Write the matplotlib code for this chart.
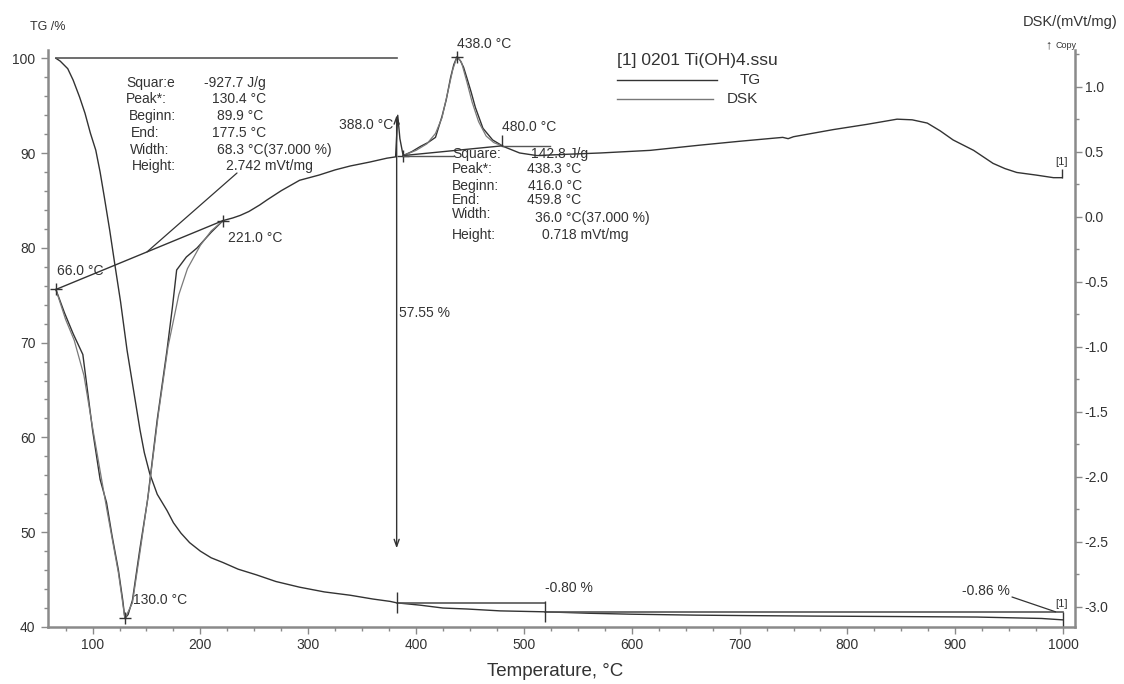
import numpy as np
import matplotlib.pyplot as plt
from matplotlib.lines import Line2D
from matplotlib.ticker import MultipleLocator

plt.rcParams['font.family'] = ['Liberation Sans', 'DejaVu Sans']
plt.rcParams['axes.unicode_minus'] = False

# TG curve, mass in %
tg_temp = [66, 70, 77, 82, 88, 93, 98, 103, 107, 111, 116, 121, 126, 132, 138, 144, 148, 153, 160, 169,
           175, 182, 190, 200, 210, 221, 235, 252, 270, 292, 315, 339, 360, 376, 382, 404, 425, 447, 478, 520,
           560, 600, 660, 710, 770, 850, 920, 980, 1000]
tg_mass = [100.0, 99.7, 98.9, 97.7, 95.9, 94.2, 92.1, 90.3, 88.0, 85.3, 81.8, 78.0, 74.3, 69.2, 65.0, 60.8, 58.4, 56.2, 54.0, 52.3,
           51.0, 49.9, 48.9, 48.0, 47.3, 46.8, 46.1, 45.5, 44.8, 44.2, 43.7, 43.35, 42.95, 42.7, 42.55, 42.3, 42.0, 41.9, 41.7, 41.6,
           41.45, 41.35, 41.25, 41.2, 41.15, 41.1, 41.05, 40.9, 40.75]

# DSK curve, mVt/mg
dsk_temp = [66, 74, 82, 91, 100, 107, 113, 118, 124, 128, 130, 133, 137, 144, 151, 160, 169, 174, 178, 187,
            197, 210, 221, 230, 237, 245, 255, 262, 275, 292, 310, 325, 339, 357, 373, 381, 383, 385, 388, 396,
            404, 411, 418, 424, 428, 432, 435, 438, 441, 444, 447, 451, 455, 462, 471, 481, 496, 512, 540, 571,
            617, 663, 700, 740, 745, 750, 787, 818, 846, 860, 874, 886, 898, 917, 926, 935, 946, 957, 975, 991, 999]
dsk_sig = [-0.56, -0.74, -0.90, -1.06, -1.64, -2.02, -2.20, -2.45, -2.72, -2.95, -3.09, -3.06, -2.95, -2.55, -2.18, -1.56, -1.03, -0.70, -0.41, -0.31,
           -0.24, -0.12, -0.03, -0.01, 0.01, 0.04, 0.09, 0.13, 0.20, 0.28, 0.32, 0.36, 0.39, 0.42, 0.45, 0.46, 0.78, 0.60, 0.47, 0.50,
           0.54, 0.57, 0.61, 0.77, 0.90, 1.07, 1.17, 1.23, 1.20, 1.15, 1.07, 0.96, 0.84, 0.68, 0.59, 0.54, 0.49, 0.47, 0.48, 0.49,
           0.51, 0.55, 0.58, 0.61, 0.60, 0.615, 0.67, 0.71, 0.75, 0.745, 0.72, 0.66, 0.59, 0.51, 0.46, 0.41, 0.37, 0.34, 0.32, 0.30, 0.30]

# fitted peak curves drawn over the DSK
fit1_temp = [66, 75, 83, 92, 100, 113, 124, 130, 137, 144, 152, 161, 170, 180, 188, 200, 210, 221]
fit1_sig = [-0.56, -0.79, -0.95, -1.22, -1.62, -2.24, -2.74, -3.09, -2.97, -2.58, -2.12, -1.52, -1.00, -0.60, -0.40, -0.22, -0.11, -0.03]
fit2_temp = [388, 400, 410, 418, 424, 430, 434, 438, 442, 447, 452, 458, 465, 472, 481]
fit2_sig = [0.47, 0.51, 0.56, 0.64, 0.76, 0.98, 1.13, 1.23, 1.19, 1.04, 0.88, 0.73, 0.62, 0.57, 0.54]

# evaluation points
peak1_marks = [66.0, 130.0, 221.0]
peak2_marks = [388.0, 438.0, 480.0]
step_marks = [382.0, 520.0, 1000.0]

peak1_names = ['Squar:e', 'Peak*:', 'Beginn:', 'End:', 'Width:', 'Height:']
peak1_vals = ['-927.7 J/g', '130.4 °C', '89.9 °C', '177.5 °C', '68.3 °C(37.000 %)', '2.742 mVt/mg']
peak2_names = ['Square:', 'Peak*:', 'Beginn:', 'End:', 'Width:', 'Height:']
peak2_vals = ['142.8 J/g', '438.3 °C', '416.0 °C', '459.8 °C', '36.0 °C(37.000 %)', '0.718 mVt/mg']

W, H = 1124, 684
INK = '#333333'
GREY = '#8a8a8a'
REF = '#555555'


def fxy(px, py):
    return px / W, 1 - py / H


fig = plt.figure(figsize=(W / 100, H / 100), dpi=100)
ax = fig.add_axes([48 / W, 1 - 627 / H, (1075 - 48) / W, (627 - 50) / H])
ax2 = ax.twinx()

ax.set_xlim(58.7, 1011)
ax.set_ylim(40, 100.87)
ax2.set_ylim(-3.156, 1.282)

for a in (ax, ax2):
    a.spines['top'].set_visible(False)
ax.spines['right'].set_visible(False)
ax2.spines['left'].set_visible(False)
ax2.spines['bottom'].set_visible(False)
for s in (ax.spines['left'], ax.spines['bottom'], ax2.spines['right']):
    s.set_color(GREY)
    s.set_linewidth(1.8)

ax.xaxis.set_major_locator(MultipleLocator(100))
ax.xaxis.set_minor_locator(MultipleLocator(25))
ax.yaxis.set_major_locator(MultipleLocator(10))
ax.yaxis.set_minor_locator(MultipleLocator(2))
ax2.yaxis.set_major_locator(MultipleLocator(0.5))
ax2.yaxis.set_minor_locator(MultipleLocator(0.25))
for a in (ax, ax2):
    a.tick_params(which='major', direction='out', length=5, width=1, color=GREY,
                  labelcolor=INK, labelsize=10)
    a.tick_params(which='minor', direction='out', length=3, width=1, color=GREY)
ax.tick_params(axis='y', pad=4)
ax.tick_params(axis='x', pad=3)
ax2.tick_params(axis='y', pad=2)

# curves
ax.plot(tg_temp, tg_mass, color=INK, lw=1.0)
ax2.plot(dsk_temp, dsk_sig, color=INK, lw=1.0)
ax2.plot(fit1_temp, fit1_sig, color='#7a7a7a', lw=0.9)
ax2.plot(fit2_temp, fit2_sig, color='#7a7a7a', lw=0.9)

# DSK peak evaluation
d1 = np.interp(peak1_marks, dsk_temp, dsk_sig)
d2 = np.interp(peak2_marks, dsk_temp, dsk_sig)
ax2.plot(peak1_marks, d1, '+', ms=9, mew=1, color=INK)
ax2.plot(peak2_marks[:2], d2[:2], '+', ms=9, mew=1, color=INK)
ax2.plot([peak1_marks[0], peak1_marks[2]], [d1[0], d1[2]], color=INK, lw=1.0)
ax2.plot([peak2_marks[0], peak2_marks[2]], [d2[0], d2[2]], color=INK, lw=1.0)
ax2.plot([peak2_marks[0], 434], [d2[0], d2[0]], color=REF, lw=1.0)
ax2.plot([peak2_marks[2], 524], [d2[2], d2[2]], color=REF, lw=1.0)
ax2.vlines(peak2_marks[2], d2[2], d2[2] + 0.08, color=INK, lw=1.0)
ax2.vlines(dsk_temp[-1], dsk_sig[-1], dsk_sig[-1] + 0.07, color=INK, lw=1.0)

# height pointer of peak 1
base_t = 150.5
base_y = np.interp(base_t, [peak1_marks[0], peak1_marks[2]], [d1[0], d1[2]])
ax2.annotate('', xy=(base_t, base_y), xytext=(237, H - 173), textcoords='figure pixels',
             arrowprops=dict(arrowstyle='-', color=INK, lw=0.9, shrinkA=0, shrinkB=0))

# TG step evaluation
t = np.interp(step_marks, tg_temp, tg_mass)
ax.plot([tg_temp[0], step_marks[0]], [tg_mass[0], tg_mass[0]], color=REF, lw=1.2)
ax.plot([step_marks[0], step_marks[1]], [t[0], t[0]], color=REF, lw=1.2)
ax.plot([step_marks[1], step_marks[2]], [t[1], t[1]], color=REF, lw=1.2)
ax.vlines(step_marks[0], t[0] - 1.1, t[0] + 1.1, color=INK, lw=1.0)
ax.vlines(step_marks[1], t[1] - 1.1, t[1] + 1.1, color=INK, lw=1.0)
ax.vlines(step_marks[2], t[2] - 0.8, t[2] + 0.8, color=INK, lw=1.0)
ax.annotate('', xy=(step_marks[0], 48.3), xytext=(step_marks[0], 94.0),
            arrowprops=dict(arrowstyle='<->,head_length=0.5,head_width=0.18', color=INK, lw=1.0,
                            shrinkA=0, shrinkB=0))
ax.annotate('', xy=(993, t[1]), xytext=(1012, H - 597), textcoords='figure pixels',
            arrowprops=dict(arrowstyle='-', color=INK, lw=0.9, shrinkA=0, shrinkB=0))

# point labels
lab = dict(color=INK, fontsize=10, textcoords='offset pixels', va='center')
ax2.annotate('66.0 °C', (peak1_marks[0], d1[0]), xytext=(1, 18), ha='left', **lab)
ax2.annotate('130.0 °C', (peak1_marks[1], d1[1]), xytext=(8, 18), ha='left', **lab)
ax2.annotate('221.0 °C', (peak1_marks[2], d1[2]), xytext=(5, -17), ha='left', **lab)
ax2.annotate('388.0 °C', (peak2_marks[0], d2[0]), xytext=(-10, 31), ha='right', **lab)
ax2.annotate('438.0 °C', (peak2_marks[1], d2[1]), xytext=(0, 13), ha='left', **lab)
ax2.annotate('480.0 °C', (peak2_marks[2], d2[2]), xytext=(0, 19), ha='left', **lab)
ax2.annotate('[1]', (dsk_temp[-1], dsk_sig[-1]), xytext=(-1, 16), ha='center',
             color=INK, fontsize=8, textcoords='offset pixels', va='center')
ax.annotate('-0.80 %', (step_marks[1], t[1]), xytext=(0, 24), ha='left', **lab)
ax.annotate('-0.86 %', (step_marks[2], t[2]), xytext=(-53, 29), ha='right', **lab)
ax.annotate('[1]', (step_marks[2], t[2]), xytext=(-2, 16), ha='center',
            color=INK, fontsize=8, textcoords='offset pixels', va='center')
fig.text(*fxy(399, 313), '57.55 %', color=INK, fontsize=10, va='center', ha='left')

# result blocks
rows1 = [83, 99, 116, 133, 150, 166]
x1n = [126, 126, 129, 131, 130, 132]
x1v = [204, 212, 217, 212, 217, 226]
for name, val, y, xn, xv in zip(peak1_names, peak1_vals, rows1, x1n, x1v):
    fig.text(*fxy(xn, y), name, color=INK, fontsize=10, va='center')
    fig.text(*fxy(xv, y), val, color=INK, fontsize=10, va='center')
rows2 = [154, 169, 186, 200, 214, 235]
x2v = [531, 527, 528, 527, 535, 542]
for i, (name, val, y, xv) in enumerate(zip(peak2_names, peak2_vals, rows2, x2v)):
    fig.text(*fxy(452, y), name, color=INK, fontsize=10, va='center')
    fig.text(*fxy(xv, y + (4 if i == 4 else 0)), val, color=INK, fontsize=10, va='center')

# legend
fig.text(*fxy(617, 61), '[1] 0201 Ti(OH)4.ssu', color=INK, fontsize=12.5, va='center')
fig.add_artist(Line2D([617 / W, 717 / W], [1 - 80 / H] * 2, color=INK, lw=1.0, transform=fig.transFigure))
fig.add_artist(Line2D([617 / W, 713 / W], [1 - 99 / H] * 2, color='#777777', lw=1.0, transform=fig.transFigure))
fig.text(*fxy(740, 80), 'TG', color=INK, fontsize=11, va='center')
fig.text(*fxy(727, 99), 'DSK', color=INK, fontsize=11, va='center')

# axis titles
fig.text(*fxy(30, 27), 'TG /%', color=INK, fontsize=9, va='center')
fig.text(*fxy(1118, 22), 'DSK/(mVt/mg)', color=INK, fontsize=10.5, va='center', ha='right')
fig.text(*fxy(1048, 45), '↑', color=INK, fontsize=9, va='center', ha='center')
fig.text(*fxy(1056, 46), 'Copy', color=INK, fontsize=6.5, va='center')
fig.text(*fxy(555, 672), 'Temperature, °C', color=INK, fontsize=13.5, va='center', ha='center')

fig.savefig('out.png', dpi=100)
